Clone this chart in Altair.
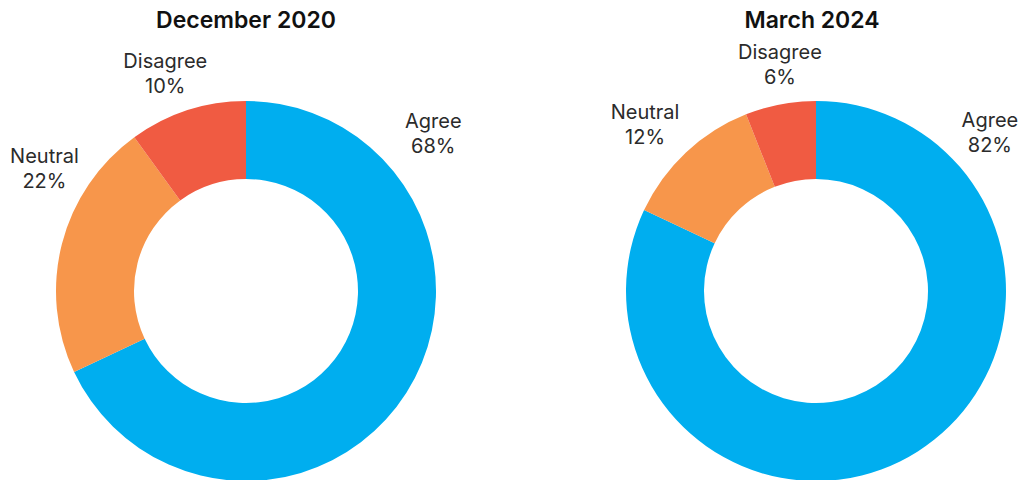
import altair as alt
import pandas as pd
import math

# ---- data ----
categories = ["Agree", "Neutral", "Disagree"]
dec2020 = [68, 22, 10]
mar2024 = [82, 12, 6]
titles = ["December 2020", "March 2024"]
colors = ["#00AEEF", "#F7964B", "#F05B42"]

# ---- layout (not data) ----
W, H = 1011, 472
CENTERS = [(238, 283), (808, 283)]
TITLE_X = [238, 804]
OUTER, INNER = 190, 112
# label placement: angle (deg, clockwise from 12 o'clock) and distance of first line
LABEL_ANGLES = [[48.0, -56.4, -19.4], [45.7, -43.8, -8.6]]
LABEL_RADII = [[252, 242, 243], [243, 247, 241]]

FONT = "Inter"

def donut(values, center, title, title_x, angles, radii):
    df = pd.DataFrame({
        "category": categories,
        "value": values,
        "order": list(range(len(categories))),
        "label": [[c, f"{v}%"] for c, v in zip(categories, values)],
        "la": [math.radians(a) for a in angles],
        "lr": radii,
    })
    base = alt.Chart(df)
    arc = base.mark_arc(radius=OUTER, innerRadius=INNER).encode(
        theta=alt.Theta("value:Q", stack=True, scale=alt.Scale(domain=[0, 100])),
        order=alt.Order("order:Q"),
        color=alt.Color("category:N",
                        scale=alt.Scale(domain=categories, range=colors),
                        legend=None),
        x=alt.value(center[0]),
        y=alt.value(center[1]),
    )
    labels = base.mark_text(
        font=FONT, fontSize=20, color="#2b2b2b", align="center",
        baseline="middle", lineHeight=25,
    ).encode(
        theta=alt.Theta("la:Q", scale=None),
        radius=alt.Radius("lr:Q", scale=None),
        text="label",
        x=alt.value(center[0]),
        y=alt.value(center[1]),
    )
    tdf = pd.DataFrame({"t": [title]})
    ttl = alt.Chart(tdf).mark_text(
        font=FONT, fontSize=23, fontWeight=600, color="#111111",
        align="center", baseline="middle",
    ).encode(text="t:N", x=alt.value(title_x), y=alt.value(13))
    return [arc, labels, ttl]

layers = (donut(dec2020, CENTERS[0], titles[0], TITLE_X[0], LABEL_ANGLES[0], LABEL_RADII[0])
          + donut(mar2024, CENTERS[1], titles[1], TITLE_X[1], LABEL_ANGLES[1], LABEL_RADII[1]))

chart = alt.layer(*layers).resolve_scale(theta="independent", radius="independent").properties(
    width=W, height=H, padding=0, autosize=alt.AutoSizeParams(type="none")
).configure_view(stroke=None)

chart.save("out.html", embed_options={"renderer": "svg", "actions": False})
